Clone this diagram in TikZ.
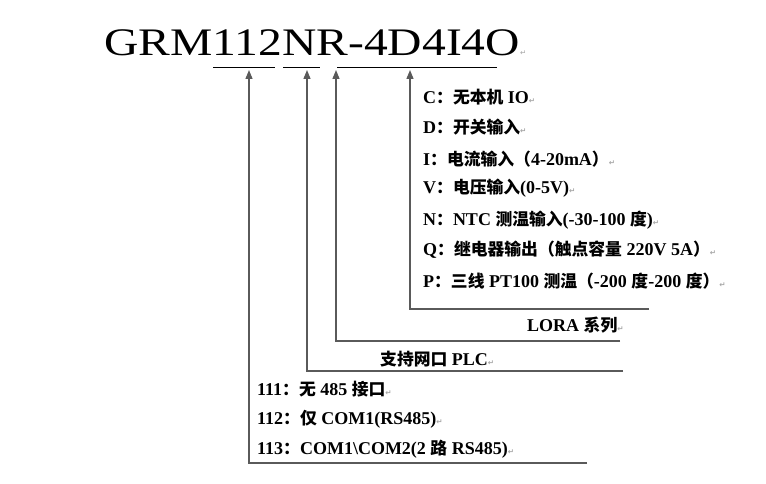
\documentclass[tikz,border=0pt]{standalone}
\usepackage{fontspec}
\usetikzlibrary{arrows.meta}
\setmainfont{Liberation Serif}
\newfontfamily\zhfont{Noto Sans CJK SC}
\newfontfamily\symfont{DejaVu Sans}
\definecolor{leadgray}{RGB}{90,90,90}
\newcommand\zh[1]{{\zhfont\bfseries\fontsize{16.8}{18}\selectfont #1}}
\newcommand\pmark{{\symfont\fontsize{7.5}{7.5}\selectfont\color{black!35}↵}}

\begin{document}
\begin{tikzpicture}[
    x=1pt, y=-1pt,
    lbl/.style={anchor=west, inner sep=0pt, font=\fontsize{18}{20}\selectfont\bfseries},
    leader/.style={draw=leadgray, line width=1.3pt, -{Triangle[length=9pt,width=7pt]}},
    uline/.style={draw=black, line width=0.8pt},
]
\useasboundingbox (0,0) rectangle (766,484);

% Bezeichnung
\node[anchor=base west, inner sep=0pt, font=\fontsize{39}{40}\selectfont]
    (code) at (104,56) {\scalebox{1.22}[1]{GRM112NR-4D4I4O}\pmark};
\draw[uline] (213,67) -- (275,67);
\draw[uline] (283,67) -- (320,67);
\draw[uline] (337,67) -- (497,67);

% Pfeilspitzen
\coordinate (tipcom) at (249,70);
\coordinate (tipnet) at (307,70);
\coordinate (tiplora) at (336,70);
\coordinate (tipio) at (410,70);

% Enden der Linien
\coordinate (endio) at (649,309);
\coordinate (endlora) at (620,341);
\coordinate (endnet) at (623,371);
\coordinate (endcom) at (587,463);

% IO-Optionen
\node[lbl] (optC) at (423,97)  {C\zh{：无本机} IO\pmark};
\node[lbl] (optD) at (423,127) {D\zh{：开关输入}\pmark};
\node[lbl] (optI) at (423,159) {I\zh{：电流输入（}4-20mA\zh{）}\pmark};
\node[lbl] (optV) at (423,188) {V\zh{：电压输入}(0-5V)\pmark};
\node[lbl] (optN) at (423,220) {N\zh{：}NTC \zh{测温输入}(-30-100 \zh{度})\pmark};
\node[lbl] (optQ) at (423,250) {Q\zh{：继电器输出（触点容量} 220V 5A\zh{）}\pmark};
\node[lbl] (optP) at (423,281) {P\zh{：三线} PT100 \zh{测温（}-200 \zh{度}-200 \zh{度）}\pmark};

% Serien
\node[lbl] (lora) at (527,325) {LORA \zh{系列}\pmark};
\node[lbl] (net) at (380,359) {\zh{支持网口} PLC\pmark};

% Schnittstellen
\node[lbl] (com111) at (257,389) {111\zh{：无} 485 \zh{接口}\pmark};
\node[lbl] (com112) at (257,419) {112\zh{：仅} COM1(RS485)\pmark};
\node[lbl] (com113) at (257,449) {113\zh{：}COM1\textbackslash COM2(2 \zh{路} RS485)\pmark};

% Linien
\draw[leader] (endio) -| (tipio);
\draw[leader] (endlora) -| (tiplora);
\draw[leader] (endnet) -| (tipnet);
\draw[leader] (endcom) -| (tipcom);

\end{tikzpicture}
\end{document}
